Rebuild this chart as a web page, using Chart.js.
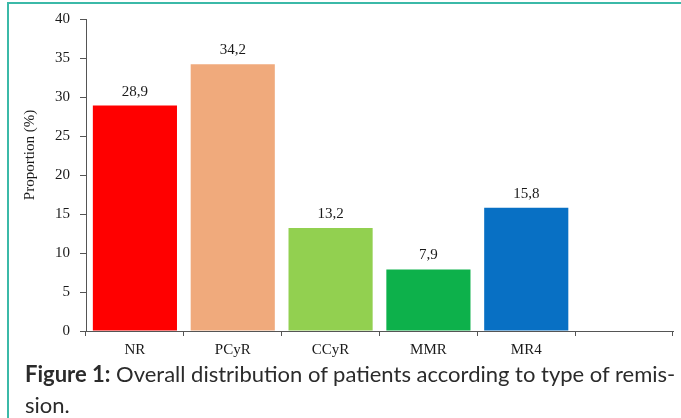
<!DOCTYPE html>
<html>
<head>
<meta charset="utf-8">
<script src="https://cdn.jsdelivr.net/npm/chart.js@4/dist/chart.umd.min.js"></script>
<style>
  html, body { margin: 0; padding: 0; background: #fff; }
  #page { position: relative; width: 681px; height: 418px; overflow: hidden; }
  #frame { position: absolute; left: 7px; top: 2px; right: 0; bottom: 0;
           border-top: 2px solid #3bb9a8; border-left: 2px solid #3bb9a8; }
  #wrap { position: absolute; left: 0; top: 0; width: 681px; height: 360px; }
  #caption { position: absolute; left: 25px; top: 358px; width: 660px;
             font-family: Lato, "Open Sans", sans-serif; font-size: 22px;
             line-height: 31px; color: #2b2b2b; white-space: nowrap; }
  #caption b { font-weight: bold; }
</style>
</head>
<body>
<div id="page">
  <div id="frame"></div>
  <div id="wrap"><canvas id="remission"></canvas></div>
  <div id="caption"><b>Figure 1:</b> Overall distribution of patients according to type of remis-<br>sion.</div>
</div>
<script>
const categories = ['NR', 'PCyR', 'CCyR', 'MMR', 'MR4', ''];
const proportions = [28.9, 34.2, 13.2, 7.9, 15.8, null];
const barColors = ['#ff0000', '#f0aa7c', '#92d050', '#0db14b', '#0870c4', '#ffffff'];
const yTicks = [0, 5, 10, 15, 20, 25, 30, 35, 40];
const yTitle = 'Proportion (%)';

const serif = '"Liberation Serif", "DejaVu Serif", serif';
const axisColor = '#555';
const textColor = '#1a1a1a';

// value labels above bars, comma decimals like the original
const valueLabels = {
    id: 'valueLabels',
    afterDatasetsDraw (chart) {
        const { ctx } = chart;
        const meta = chart.getDatasetMeta(0);
        ctx.save();
        ctx.font = '15px ' + serif;
        ctx.fillStyle = textColor;
        ctx.textAlign = 'center';
        ctx.textBaseline = 'alphabetic';
        meta.data.forEach((bar, i) => {
            const v = proportions[i];
            if (v == null) return;
            ctx.fillText(v.toFixed(1).replace('.', ','), bar.x, bar.y - 10);
        });
        ctx.restore();
    }
};

// y axis title, placed a bit above the middle like the source figure
const sideTitle = {
    id: 'sideTitle',
    afterDraw (chart) {
        const { ctx } = chart;
        ctx.save();
        ctx.translate(30, 155);
        ctx.rotate(-Math.PI / 2);
        ctx.font = '15px ' + serif;
        ctx.fillStyle = textColor;
        ctx.textAlign = 'center';
        ctx.textBaseline = 'middle';
        ctx.fillText(yTitle, 0, 0);
        ctx.restore();
    }
};

new Chart(
    document.getElementById('remission'),
    {
        type: 'bar',
        data: {
            labels: categories,
            datasets: [
                {
                    data: proportions,
                    backgroundColor: barColors,
                    categoryPercentage: 1,
                    barPercentage: 0.86
                }
            ]
        },
        options: {
            responsive: true,
            maintainAspectRatio: false,
            animation: false,
            layout: {
                padding: { top: 17, right: 8, left: 0, bottom: 0 }
            },
            plugins: {
                legend: { display: false },
                tooltip: { enabled: false }
            },
            scales: {
                x: {
                    afterFit: (scale) => { scale.height = 29; },
                    grid: {
                        offset: true,
                        drawOnChartArea: false,
                        tickLength: 5,
                        color: axisColor
                    },
                    border: { color: axisColor, width: 1 },
                    ticks: {
                        autoSkip: false,
                        maxRotation: 0,
                        padding: 5,
                        color: textColor,
                        font: { family: serif, size: 15 }
                    }
                },
                y: {
                    min: 0,
                    max: 40,
                    afterFit: (scale) => { scale.width = 86; },
                    afterBuildTicks: (scale) => {
                        scale.ticks = yTicks.map(v => ({ value: v }));
                    },
                    grid: {
                        drawOnChartArea: false,
                        tickLength: 6,
                        color: axisColor
                    },
                    border: { color: axisColor, width: 1 },
                    ticks: {
                        padding: 10,
                        color: textColor,
                        font: { family: serif, size: 15 }
                    }
                }
            }
        },
        plugins: [valueLabels, sideTitle]
    }
);
</script>
</body>
</html>
